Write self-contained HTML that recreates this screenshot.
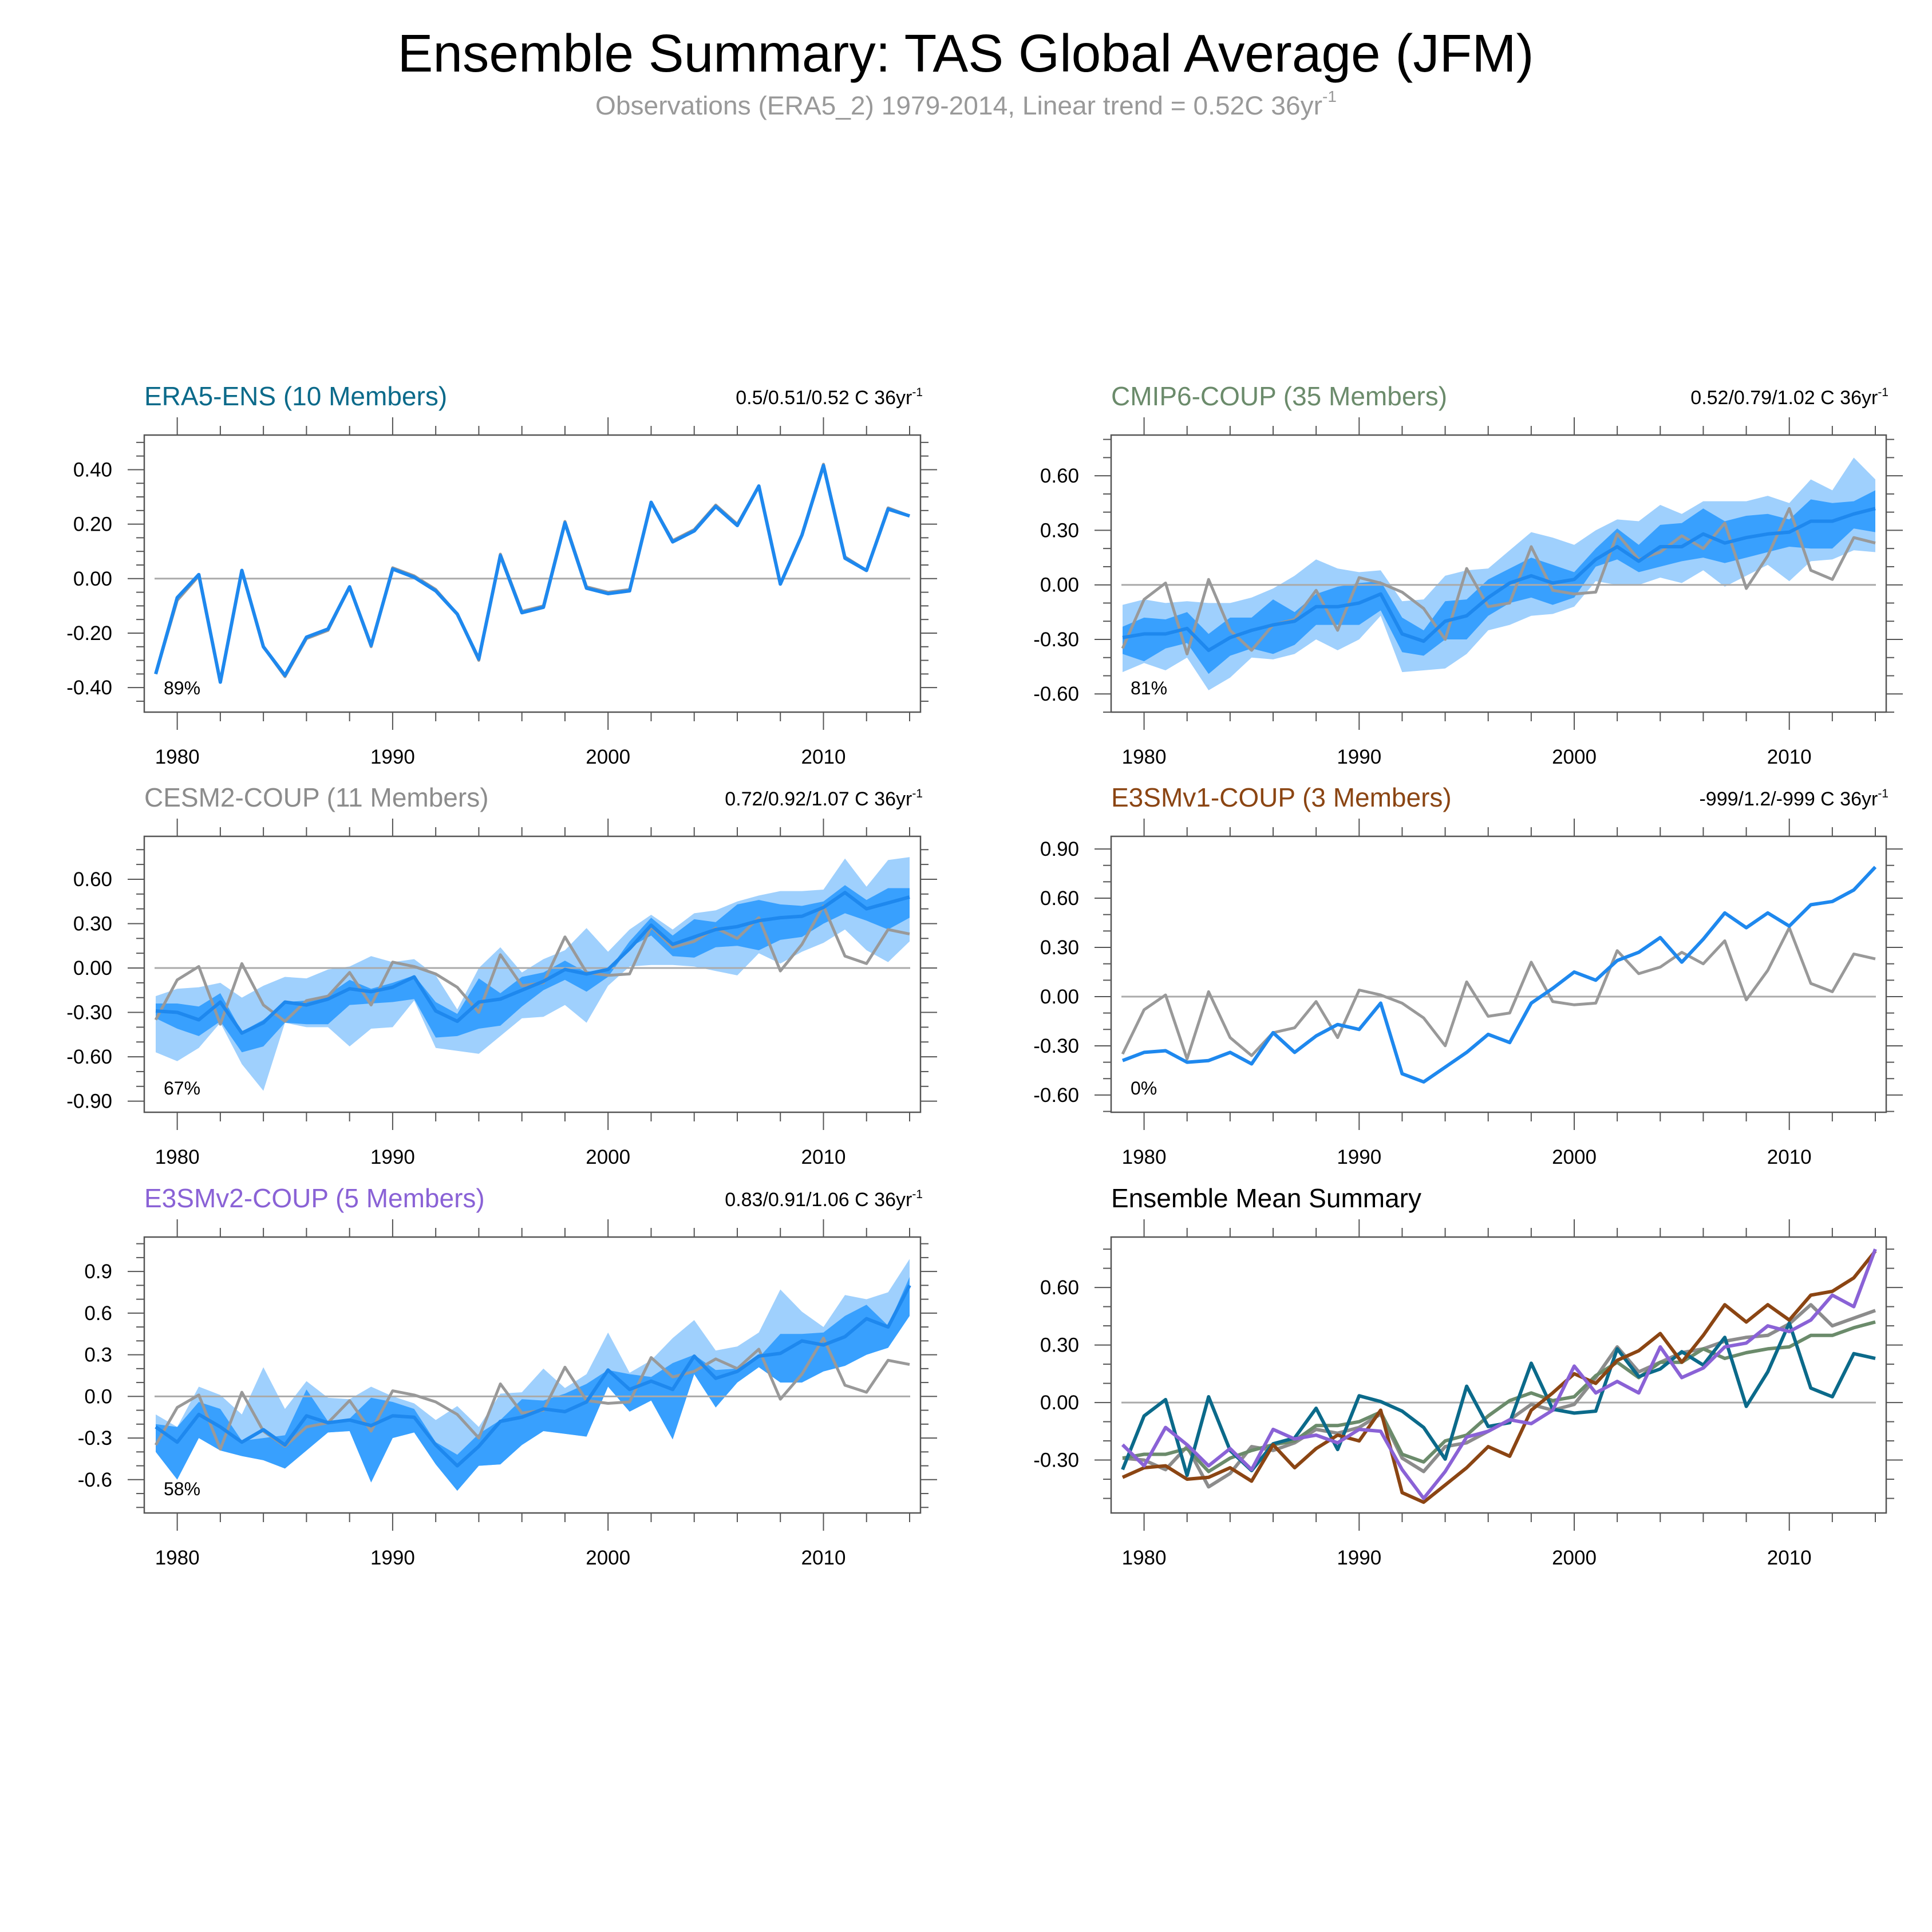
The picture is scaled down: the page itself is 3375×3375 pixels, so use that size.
<!DOCTYPE html>
<html><head><meta charset="utf-8"><style>
html,body{margin:0;padding:0;background:#fff;}
svg{display:block;font-family:"Liberation Sans",sans-serif;}
</style></head><body>
<svg id="fig" xmlns="http://www.w3.org/2000/svg" width="3375" height="3375" viewBox="0 0 3375 3375">
<rect x="0" y="0" width="3375" height="3375" fill="#fff"/>
<text x="1687" y="125" font-size="93" text-anchor="middle" textLength="1985" lengthAdjust="spacingAndGlyphs" fill="#000">Ensemble Summary: TAS Global Average (JFM)</text>
<text x="1040" y="200" font-size="45" fill="#999"><tspan textLength="1270" lengthAdjust="spacingAndGlyphs">Observations (ERA5_2) 1979-2014, Linear trend = 0.52C 36yr</tspan><tspan font-size="28" dy="-22">-1</tspan></text>
</svg>
<script>
const years = [1979,1980,1981,1982,1983,1984,1985,1986,1987,1988,1989,1990,1991,1992,1993,1994,1995,1996,1997,1998,1999,2000,2001,2002,2003,2004,2005,2006,2007,2008,2009,2010,2011,2012,2013,2014];
const obs = [-0.35,-0.08,0.01,-0.38,0.03,-0.25,-0.36,-0.22,-0.19,-0.03,-0.25,0.04,0.01,-0.04,-0.13,-0.30,0.09,-0.12,-0.10,0.21,-0.03,-0.05,-0.04,0.28,0.14,0.18,0.27,0.20,0.34,-0.02,0.16,0.42,0.08,0.03,0.26,0.23];
const era5Mean = [-0.35,-0.07,0.015,-0.38,0.03,-0.25,-0.355,-0.215,-0.185,-0.03,-0.245,0.035,0.005,-0.045,-0.13,-0.295,0.085,-0.125,-0.105,0.205,-0.035,-0.055,-0.045,0.28,0.135,0.175,0.265,0.195,0.34,-0.02,0.16,0.415,0.075,0.03,0.255,0.23];
const cmipMean = [-0.29,-0.27,-0.27,-0.24,-0.36,-0.29,-0.25,-0.22,-0.20,-0.12,-0.12,-0.10,-0.05,-0.27,-0.31,-0.20,-0.17,-0.07,0.01,0.05,0.01,0.03,0.14,0.21,0.13,0.21,0.21,0.28,0.23,0.26,0.28,0.29,0.35,0.35,0.39,0.42];
const cmipLightHi = [-0.11,-0.08,-0.10,-0.09,-0.10,-0.10,-0.07,-0.02,0.05,0.14,0.09,0.07,0.08,-0.09,-0.08,0.05,0.08,0.09,0.19,0.29,0.26,0.22,0.30,0.36,0.35,0.44,0.39,0.46,0.46,0.46,0.49,0.45,0.58,0.52,0.70,0.58];
const cmipDarkHi = [-0.23,-0.18,-0.19,-0.15,-0.27,-0.18,-0.18,-0.08,-0.15,-0.05,-0.01,0.01,0.02,-0.18,-0.25,-0.09,-0.08,0.03,0.09,0.15,0.11,0.07,0.20,0.31,0.22,0.33,0.34,0.42,0.35,0.38,0.39,0.36,0.47,0.45,0.46,0.52];
const cmipDarkLo = [-0.38,-0.42,-0.35,-0.32,-0.49,-0.39,-0.35,-0.38,-0.33,-0.22,-0.22,-0.22,-0.14,-0.37,-0.39,-0.30,-0.30,-0.17,-0.10,-0.07,-0.11,-0.07,0.10,0.14,0.07,0.10,0.13,0.15,0.12,0.15,0.18,0.21,0.20,0.20,0.31,0.29];
const cmipLightLo = [-0.48,-0.43,-0.47,-0.40,-0.58,-0.51,-0.40,-0.41,-0.38,-0.30,-0.36,-0.30,-0.17,-0.48,-0.47,-0.46,-0.38,-0.25,-0.22,-0.17,-0.16,-0.12,0.02,0.00,0.00,0.04,0.01,0.08,-0.01,0.05,0.11,0.02,0.13,0.14,0.19,0.18];
const cesmMean = [-0.29,-0.30,-0.35,-0.23,-0.44,-0.37,-0.23,-0.25,-0.21,-0.14,-0.16,-0.13,-0.06,-0.29,-0.36,-0.23,-0.21,-0.15,-0.09,-0.01,-0.04,-0.01,0.13,0.29,0.16,0.21,0.26,0.28,0.32,0.34,0.35,0.41,0.51,0.40,0.44,0.48];
const cesmLightHi = [-0.19,-0.14,-0.13,-0.10,-0.20,-0.12,-0.06,-0.07,-0.01,0.01,0.08,0.04,0.06,-0.05,-0.28,0.00,0.14,-0.03,0.06,0.12,0.27,0.11,0.26,0.36,0.26,0.37,0.39,0.45,0.49,0.52,0.52,0.53,0.74,0.55,0.73,0.75];
const cesmDarkHi = [-0.24,-0.24,-0.26,-0.17,-0.43,-0.35,-0.23,-0.22,-0.18,-0.08,-0.14,-0.10,-0.05,-0.23,-0.31,-0.07,-0.17,-0.06,-0.03,0.05,-0.03,-0.02,0.18,0.34,0.22,0.33,0.31,0.43,0.46,0.43,0.42,0.45,0.56,0.46,0.54,0.54];
const cesmDarkLo = [-0.34,-0.41,-0.46,-0.36,-0.57,-0.53,-0.37,-0.38,-0.38,-0.25,-0.24,-0.23,-0.21,-0.47,-0.46,-0.41,-0.39,-0.26,-0.15,-0.08,-0.16,-0.06,0.14,0.22,0.08,0.07,0.14,0.15,0.12,0.19,0.21,0.30,0.37,0.32,0.26,0.34];
const cesmLightLo = [-0.57,-0.63,-0.54,-0.37,-0.65,-0.83,-0.37,-0.40,-0.40,-0.53,-0.41,-0.40,-0.22,-0.54,-0.56,-0.58,-0.46,-0.34,-0.33,-0.25,-0.37,-0.12,0.01,0.02,0.02,0.01,-0.02,-0.05,0.10,0.03,0.11,0.17,0.26,0.12,0.04,0.18];
const e3v1Mean = [-0.39,-0.34,-0.33,-0.40,-0.39,-0.34,-0.41,-0.22,-0.34,-0.24,-0.17,-0.20,-0.04,-0.47,-0.52,-0.43,-0.34,-0.23,-0.28,-0.04,0.05,0.15,0.10,0.22,0.27,0.36,0.21,0.35,0.51,0.42,0.51,0.43,0.56,0.58,0.65,0.79];
const e3v2Mean = [-0.22,-0.33,-0.13,-0.22,-0.33,-0.24,-0.35,-0.14,-0.19,-0.17,-0.21,-0.14,-0.15,-0.35,-0.50,-0.36,-0.18,-0.15,-0.09,-0.11,-0.04,0.19,0.05,0.11,0.05,0.29,0.13,0.18,0.29,0.31,0.40,0.37,0.43,0.56,0.50,0.80];
const e3v2LightHi = [-0.13,-0.22,0.07,0.01,-0.13,0.21,-0.09,0.11,-0.01,-0.02,0.07,0.00,-0.05,-0.17,-0.07,-0.22,0.02,0.03,0.20,0.06,0.16,0.46,0.17,0.26,0.42,0.55,0.33,0.36,0.46,0.77,0.61,0.50,0.73,0.70,0.75,0.99];
const e3v2DarkHi = [-0.20,-0.22,-0.04,-0.09,-0.32,-0.30,-0.28,0.05,-0.18,-0.16,-0.01,-0.04,-0.09,-0.33,-0.42,-0.27,-0.17,-0.02,-0.03,0.02,0.09,0.19,0.16,0.14,0.24,0.30,0.19,0.20,0.28,0.45,0.45,0.46,0.58,0.66,0.51,0.86];
const e3v2DarkLo = [-0.40,-0.60,-0.30,-0.39,-0.43,-0.46,-0.52,-0.39,-0.26,-0.25,-0.62,-0.30,-0.26,-0.49,-0.68,-0.50,-0.49,-0.35,-0.25,-0.27,-0.29,0.07,-0.11,-0.03,-0.31,0.16,-0.08,0.10,0.21,0.10,0.10,0.18,0.22,0.30,0.35,0.58];

const NS = "http://www.w3.org/2000/svg";
const svg = document.getElementById('fig');
const C = {light:'#9fd0fd', dark:'#38a0fe', mean:'#1e88ee', obs:'#999999', zero:'#aaaaaa'};

function mk(tag, attrs, parent){
  const e = document.createElementNS(NS, tag);
  for (const k in attrs) e.setAttribute(k, attrs[k]);
  (parent||svg).appendChild(e);
  return e;
}

function makePanel(p){
  const g = mk('g', {});
  
  
  const W = p.x1 - p.x0, H = p.y1 - p.y0;
  const xs = i => p.x0 + 20 + i * (W - 39) / 35;
  const xy = yr => xs(yr - 1979);
  const ys = v => p.y1 - (v - p.vmin) / (p.vmax - p.vmin) * H;
  const cp = mk('clipPath', {id: 'clip-' + p.name}, g);
  mk('rect', {x: p.x0, y: p.y0, width: W, height: H}, cp);
  const plot = mk('g', {'clip-path': 'url(#clip-' + p.name + ')'}, g);
  
  

  function band(lo, hi, color, nm){
    let d = 'M';
    hi.forEach((v,i) => { d += (i ? ' L' : '') + xs(i).toFixed(1) + ',' + ys(v).toFixed(1); });
    for (let i = lo.length - 1; i >= 0; i--) d += ' L' + xs(i).toFixed(1) + ',' + ys(lo[i]).toFixed(1);
    const e = mk('path', {d: d + ' Z', fill: color, stroke: 'none'}, plot);
    
    
  }
  function line(vals, color, w, nm){
    const pts = vals.map((v,i) => xs(i).toFixed(1) + ',' + ys(v).toFixed(1)).join(' ');
    const e = mk('polyline', {points: pts, fill: 'none', stroke: color, 'stroke-width': w, 'stroke-linejoin': 'round'}, plot);
    
    
  }
  if (p.lightLo) band(p.lightLo, p.lightHi, C.light, 'full-range-band');
  if (p.darkLo) band(p.darkLo, p.darkHi, C.dark, 'interquartile-band');
  const z = mk('line', {x1: p.x0 + 18, x2: p.x1 - 18, y1: ys(0), y2: ys(0), stroke: C.zero, 'stroke-width': 3}, plot);
  
  
  if (p.series) {
    p.series.forEach(s => line(s.v, s.c, 6, s.n));
  } else {
    line(obs, C.obs, 5, 'observations-line');
    line(p.mean, C.mean, 6, 'ensemble-mean-line');
  }
  const fr = mk('rect', {x: p.x0, y: p.y0, width: W, height: H, fill: 'none', stroke: '#555', 'stroke-width': 2.5}, g);
  
  

  for (let yr = 1980; yr <= 2014; yr += 2) {
    const major = yr % 10 === 0;
    const L = major ? 31 : 16;
    const x = xy(yr);
    mk('line', {x1: x, x2: x, y1: p.y0, y2: p.y0 - L, stroke: '#555', 'stroke-width': 2}, g);
    mk('line', {x1: x, x2: x, y1: p.y1, y2: p.y1 + L, stroke: '#555', 'stroke-width': 2}, g);
    if (major) {
      const t = mk('text', {x: x, y: p.y1 + 90, 'font-size': 35, 'text-anchor': 'middle', fill: '#000'}, g);
      
      
      t.textContent = yr;
    }
  }
  const n0 = Math.ceil(p.vmin / p.minor - 1e-6), n1 = Math.floor(p.vmax / p.minor + 1e-6);
  for (let n = n0; n <= n1; n++) {
    const v = n * p.minor;
    const y = ys(v);
    const isMajor = Math.abs(v / p.major - Math.round(v / p.major)) < 1e-6 && v >= p.tmin - 1e-6 && v <= p.tmax + 1e-6;
    const L = isMajor ? 29 : 14;
    mk('line', {x1: p.x0, x2: p.x0 - L, y1: y, y2: y, stroke: '#555', 'stroke-width': 2}, g);
    mk('line', {x1: p.x1, x2: p.x1 + L, y1: y, y2: y, stroke: '#555', 'stroke-width': 2}, g);
    if (isMajor) {
      const t = mk('text', {x: p.x0 - 56, y: y + 12, 'font-size': 35, 'text-anchor': 'end', fill: '#000'}, g);
      
      
      t.textContent = v.toFixed(p.dec);
    }
  }
  const tt = mk('text', {x: p.x0, y: p.y0 - 52, 'font-size': 46, fill: p.tcolor}, g);
  
  
  tt.textContent = p.title;
  if (p.trend) {
    const tr = mk('text', {x: p.x1 + 4, y: p.y0 - 54, 'font-size': 34, 'text-anchor': 'end', fill: '#000'}, g);
    
    
    const a = mk('tspan', {}, tr); a.textContent = p.trend + ' C 36yr';
    const b = mk('tspan', {'font-size': 21, dy: -14}, tr); b.textContent = '-1';
  }
  if (p.pct) {
    const pc = mk('text', {x: p.x0 + 34, y: p.y1 - 31, 'font-size': 32, fill: '#000'}, g);
    
    
    pc.textContent = p.pct;
  }
}

const LX = [252, 1608], RX = [1941, 3295];
const R1 = [760, 1244], R2 = [1461, 1943], R3 = [2161, 2643];

makePanel({name:'era5-ens-panel', x0:LX[0], x1:LX[1], y0:R1[0], y1:R1[1], vmin:-0.49, vmax:0.527, major:0.2, minor:0.05, tmin:-0.4, tmax:0.4, dec:2,
  title:'ERA5-ENS (10 Members)', tcolor:'#0b6a8a', trend:'0.5/0.51/0.52', pct:'89%', mean: era5Mean});
makePanel({name:'cmip6-coup-panel', x0:RX[0], x1:RX[1], y0:R1[0], y1:R1[1], vmin:-0.70, vmax:0.824, major:0.3, minor:0.1, tmin:-0.6, tmax:0.6, dec:2,
  title:'CMIP6-COUP (35 Members)', tcolor:'#6b8b6b', trend:'0.52/0.79/1.02', pct:'81%', mean: cmipMean,
  lightLo: cmipLightLo, lightHi: cmipLightHi, darkLo: cmipDarkLo, darkHi: cmipDarkHi});
makePanel({name:'cesm2-coup-panel', x0:LX[0], x1:LX[1], y0:R2[0], y1:R2[1], vmin:-0.975, vmax:0.89, major:0.3, minor:0.1, tmin:-0.9, tmax:0.6, dec:2,
  title:'CESM2-COUP (11 Members)', tcolor:'#8c8c8c', trend:'0.72/0.92/1.07', pct:'67%', mean: cesmMean,
  lightLo: cesmLightLo, lightHi: cesmLightHi, darkLo: cesmDarkLo, darkHi: cesmDarkHi});
makePanel({name:'e3smv1-coup-panel', x0:RX[0], x1:RX[1], y0:R2[0], y1:R2[1], vmin:-0.705, vmax:0.977, major:0.3, minor:0.1, tmin:-0.6, tmax:0.9, dec:2,
  title:'E3SMv1-COUP (3 Members)', tcolor:'#8b4513', trend:'-999/1.2/-999', pct:'0%', mean: e3v1Mean});
makePanel({name:'e3smv2-coup-panel', x0:LX[0], x1:LX[1], y0:R3[0], y1:R3[1], vmin:-0.84, vmax:1.148, major:0.3, minor:0.1, tmin:-0.6, tmax:0.9, dec:1,
  title:'E3SMv2-COUP (5 Members)', tcolor:'#8a62d6', trend:'0.83/0.91/1.06', pct:'58%', mean: e3v2Mean,
  lightLo: e3v2DarkLo, lightHi: e3v2LightHi, darkLo: e3v2DarkLo, darkHi: e3v2DarkHi});
makePanel({name:'ensemble-mean-summary-panel', x0:RX[0], x1:RX[1], y0:R3[0], y1:R3[1], vmin:-0.576, vmax:0.863, major:0.3, minor:0.1, tmin:-0.3, tmax:0.6, dec:2,
  title:'Ensemble Mean Summary', tcolor:'#000',
  series:[
    {v: cesmMean, c:'#8c8c8c', n:'cesm2-mean-line'},
    {v: cmipMean, c:'#6b8b6b', n:'cmip6-mean-line'},
    {v: era5Mean, c:'#0b6a8a', n:'era5-mean-line'},
    {v: e3v1Mean, c:'#8b4513', n:'e3smv1-mean-line'},
    {v: e3v2Mean, c:'#8a62d6', n:'e3smv2-mean-line'}
  ]});
</script>
</body></html>
